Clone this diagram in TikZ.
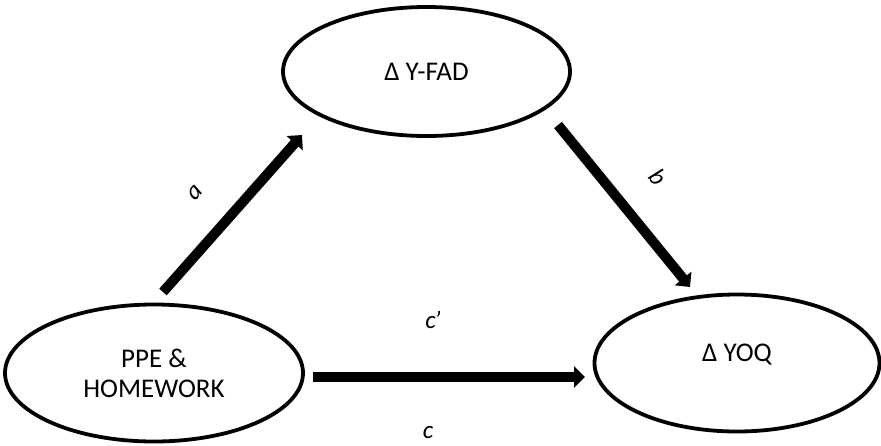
\documentclass[tikz,border=0pt]{standalone}
\usepackage{fontspec}
\setmainfont{Carlito}
\usetikzlibrary{shapes.geometric,arrows.meta}
\begin{document}
\begin{tikzpicture}[x=1pt,y=-1pt,
  oval/.style={draw, ellipse, line width=3.8pt, inner sep=0pt, font=\fontsize{27}{30}\selectfont, align=center},
  txt/.style={font=\fontsize{27}{30}\selectfont, inner sep=0pt},
  arr/.style={line width=10pt, -{Triangle[width=21pt,length=11pt]}},
  lab/.style={font=\fontsize{25}{30}\selectfont\itshape, inner sep=0pt}]
\fill[white] (0,0) rectangle (881,445);
\useasboundingbox (0,0) rectangle (881,445);
\node[oval, minimum width=287pt, minimum height=129pt] (fad) at (426.5,71.5) {Δ Y-FAD};
\node[oval, minimum width=298pt, minimum height=137pt] (ppe) at (154,373) {PPE \&\\HOMEWORK};
\node[oval, minimum width=285pt, minimum height=137pt] (yoq) at (737,363) {};
\node[txt] (yoqtext) at ([yshift=8pt]yoq.center) {Δ YOQ};
\draw[arr] ([shift={(9,-81)}]ppe.center) -- ([shift={(-124.5,63.5)}]fad.center);
\draw[arr] ([shift={(131.5,53.5)}]fad.center) -- ([shift={(-47,-76)}]yoq.center);
\draw[arr] ([shift={(159,4)}]ppe.center) -- ([shift={(-152,14)}]yoq.center);
\node[lab, rotate=48.5] (la) at (195,193) {a};
\node[lab, rotate=-51] (lb) at (658,177) {b};
\node[lab] (lcp) at (433,320) {c\kern-1.5pt’};
\node[lab] (lc) at (428,433) {c};
\end{tikzpicture}
\end{document}
